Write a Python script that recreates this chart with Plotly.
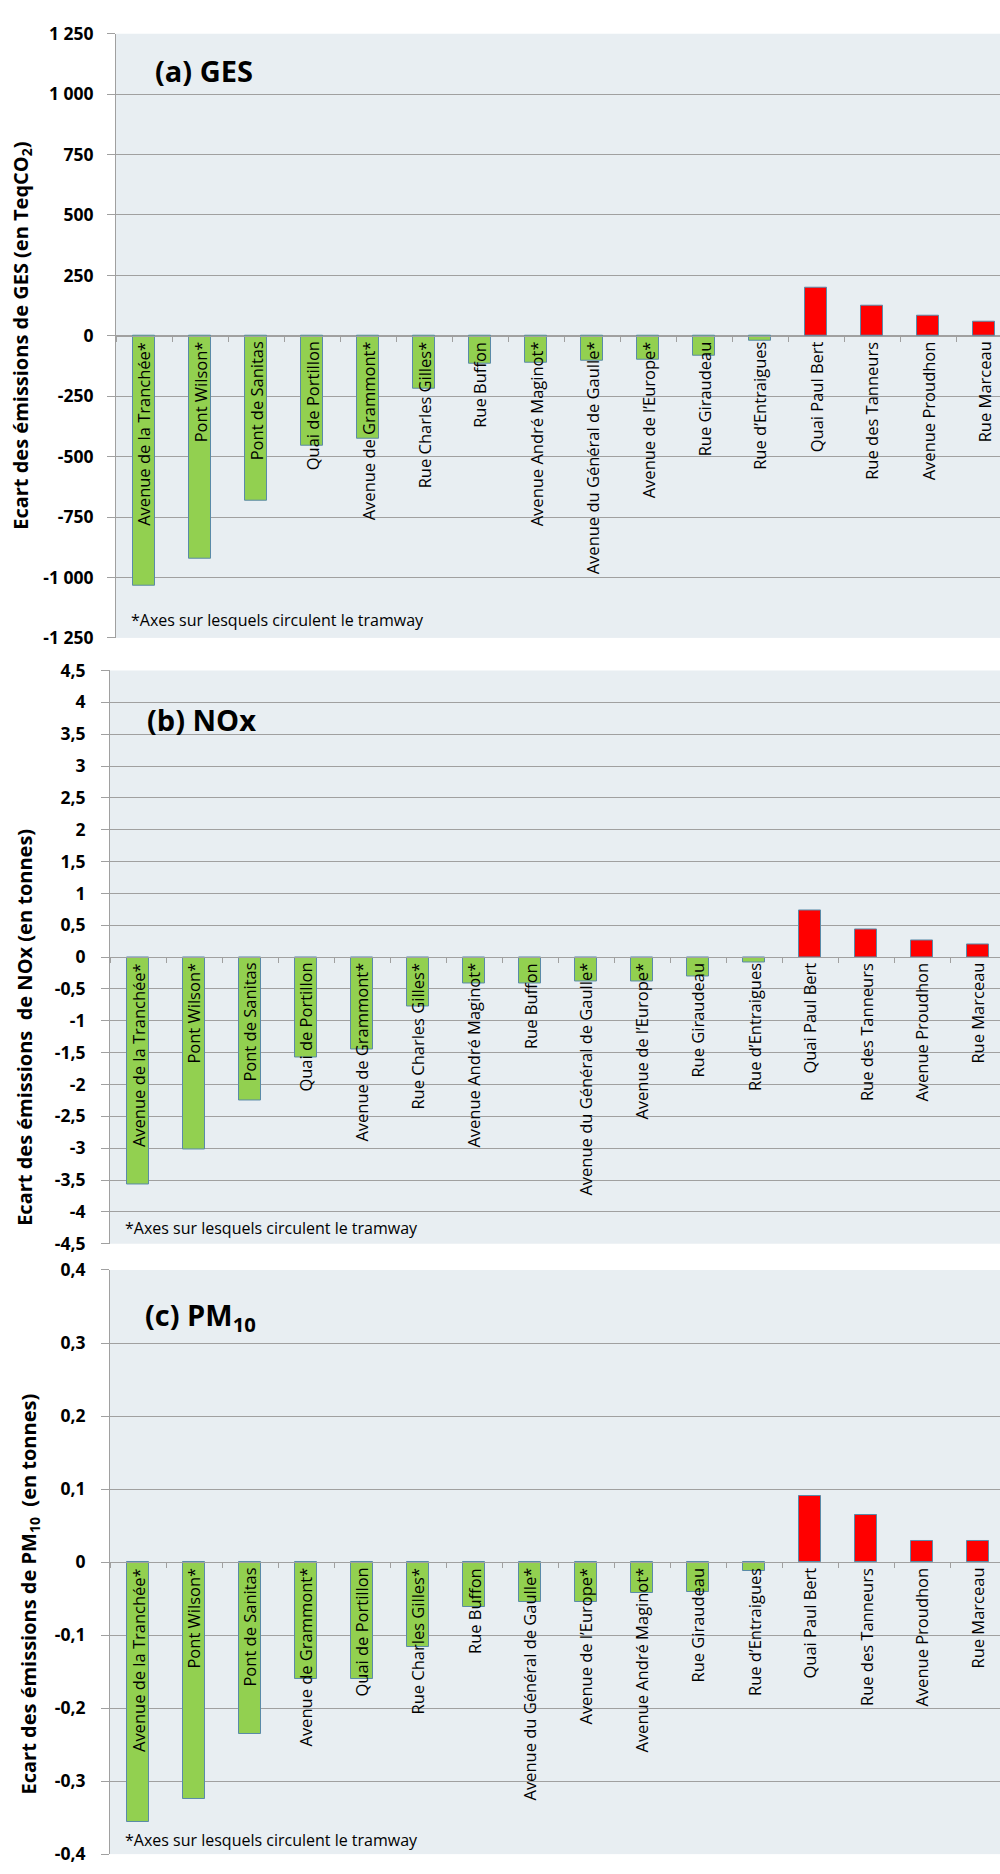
import plotly.graph_objects as go

# --- data -------------------------------------------------------------
streets_ges = ["Avenue de la Tranchée*", "Pont Wilson*", "Pont de Sanitas", "Quai de Portillon",
               "Avenue de Grammont*", "Rue Charles Gilles*", "Rue Buffon", "Avenue André Maginot*",
               "Avenue du Général de Gaulle*", "Avenue de l’Europe*", "Rue Giraudeau",
               "Rue d’Entraigues", "Quai Paul Bert", "Rue des Tanneurs", "Avenue Proudhon",
               "Rue Marceau"]
ges_values = [-1035, -922, -682, -454, -427, -219, -115, -111, -103, -100, -84, -19,
              200, 125, 84, 57]

streets_nox = ["Avenue de la Tranchée*", "Pont Wilson*", "Pont de Sanitas", "Quai de Portillon",
               "Avenue de Grammont*", "Rue Charles Gilles*", "Avenue André Maginot*", "Rue Buffon",
               "Avenue du Général de Gaulle*", "Avenue de l’Europe*", "Rue Giraudeau",
               "Rue d’Entraigues", "Quai Paul Bert", "Rue des Tanneurs", "Avenue Proudhon",
               "Rue Marceau"]
nox_values = [-3.57, -3.02, -2.25, -1.57, -1.45, -0.78, -0.41, -0.41, -0.39, -0.38, -0.31,
              -0.08, 0.73, 0.43, 0.26, 0.20]

streets_pm10 = ["Avenue de la Tranchée*", "Pont Wilson*", "Pont de Sanitas", "Avenue de Grammont*",
                "Quai de Portillon", "Rue Charles Gilles*", "Rue Buffon",
                "Avenue du Général de Gaulle*", "Avenue de l’Europe*", "Avenue André Maginot*",
                "Rue Giraudeau", "Rue d’Entraigues", "Quai Paul Bert", "Rue des Tanneurs",
                "Avenue Proudhon", "Rue Marceau"]
pm10_values = [-0.356, -0.324, -0.236, -0.160, -0.160, -0.116, -0.061, -0.055, -0.055, -0.042,
               -0.041, -0.012, 0.090, 0.064, 0.029, 0.029]

ticks_ges = [1250, 1000, 750, 500, 250, 0, -250, -500, -750, -1000, -1250]
ticklabels_ges = ["1 250", "1 000", "750", "500", "250", "0", "-250", "-500", "-750",
                  "-1 000", "-1 250"]
ticks_nox = [4.5, 4, 3.5, 3, 2.5, 2, 1.5, 1, 0.5, 0, -0.5, -1, -1.5, -2, -2.5, -3, -3.5,
             -4, -4.5]
ticklabels_nox = ["4,5", "4", "3,5", "3", "2,5", "2", "1,5", "1", "0,5", "0", "-0,5", "-1",
                  "-1,5", "-2", "-2,5", "-3", "-3,5", "-4", "-4,5"]
ticks_pm10 = [0.4, 0.3, 0.2, 0.1, 0, -0.1, -0.2, -0.3, -0.4]
ticklabels_pm10 = ["0,4", "0,3", "0,2", "0,1", "0", "-0,1", "-0,2", "-0,3", "-0,4"]

panel_titles = ["(a) GES", "(b) NOx", "(c) PM<sub>10</sub>"]
axis_titles = ["Ecart des émissions de GES (en TeqCO<sub>2</sub>)",
               "Ecart des émissions \u00a0de NOx (en tonnes)",
               "Ecart des émissions de PM<sub>10</sub> \u00a0(en tonnes)"]
footnote = "*Axes sur lesquels circulent le tramway"

# --- styling ----------------------------------------------------------
FONT = "Open Sans"
GREEN = "#92D050"
RED = "#FF0000"
OUTLINE = "#5A8AA8"
GRID = "#A0A0A0"
PLOT_BG = "#E8EEF2"

W, H = 1000, 1874

panels = [
    dict(names=streets_ges, values=ges_values, ticks=ticks_ges, labels=ticklabels_ges,
         yr=(-1250, 1250), top=21, bottom=633, left=116, standoff=10,
         title_xy=(153, 58), ytitle_xy=(22, 327), note_xy=(129, 615)),
    dict(names=streets_nox, values=nox_values, ticks=ticks_nox, labels=ticklabels_nox,
         yr=(-4.5, 4.5), top=666, bottom=1246.7, left=110, standoff=12,
         title_xy=(145, 716), ytitle_xy=(25, 1028), note_xy=(123, 1231)),
    dict(names=streets_pm10, values=pm10_values, ticks=ticks_pm10, labels=ticklabels_pm10,
         yr=(-0.4, 0.4), top=1273.3, bottom=1865, left=110, standoff=12,
         title_xy=(143, 1320), ytitle_xy=(29, 1602), note_xy=(123, 1851)),
]

CAT_PX = 56  # width of one category slot in pixels

fig = go.Figure()
annotations = []
layout = {}

for i, p in enumerate(panels, start=1):
    xa, ya = f"x{i}", f"y{i}"
    xkey, ykey = f"xaxis{i}", f"yaxis{i}"
    n = len(p["names"])
    idx = list(range(n))
    colors = [GREEN if v < 0 else RED for v in p["values"]]

    fig.add_trace(go.Bar(
        x=idx, y=p["values"], xaxis=xa, yaxis=ya, width=0.41,
        marker=dict(color=colors, line=dict(color=OUTLINE, width=1)),
        showlegend=False, hoverinfo="x+y",
    ))

    d0 = 1 - p["bottom"] / H
    d1 = 1 - p["top"] / H
    lo, hi = p["yr"]
    xdom0 = p["left"] / W
    # visible categories across the plot width
    span = (W - p["left"]) / CAT_PX
    zero_pos = d0 + (0 - lo) / (hi - lo) * (d1 - d0)

    layout[xkey] = dict(
        domain=[xdom0, 1], range=[-0.5, -0.5 + span], anchor="free", position=zero_pos,
        showline=True, linecolor=GRID, linewidth=1, ticks="outside", ticklen=5,
        tickcolor=GRID, tickvals=[k - 0.5 for k in range(n + 1)], showticklabels=False,
        showgrid=False, zeroline=False, fixedrange=True,
    )
    layout[ykey] = dict(
        domain=[d0, d1], range=[lo, hi], anchor=xa, tickvals=p["ticks"],
        ticktext=p["labels"], showgrid=True, gridcolor=GRID, gridwidth=1, zeroline=False,
        showline=True, linecolor=GRID, linewidth=1, ticks="outside", ticklen=8,
        tickcolor=GRID, ticklabelstandoff=p["standoff"],
        tickfont=dict(family=FONT, size=17.5, color="black", weight="bold"), fixedrange=True,
    )

    # street names, drawn vertically just below the zero line
    for k, name in enumerate(p["names"]):
        annotations.append(dict(
            x=k, y=0, xref=xa, yref=ya, text=name, textangle=-90, showarrow=False,
            xanchor="center", yanchor="top", yshift=-4,
            font=dict(family=FONT, size=16.5, color="black"),
        ))

    tx, ty = p["title_xy"]
    annotations.append(dict(
        x=tx / W, y=1 - ty / H, xref="paper", yref="paper", text=panel_titles[i - 1],
        showarrow=False, xanchor="left", yanchor="middle",
        font=dict(family=FONT, size=29, color="black", weight="bold"),
    ))
    ax_, ay_ = p["ytitle_xy"]
    annotations.append(dict(
        x=ax_ / W, y=1 - ay_ / H, xref="paper", yref="paper", text=axis_titles[i - 1],
        textangle=-90, showarrow=False, xanchor="center", yanchor="middle",
        font=dict(family=FONT, size=20, color="black", weight="bold"),
    ))
    nx, ny = p["note_xy"]
    annotations.append(dict(
        x=nx / W, y=1 - ny / H, xref="paper", yref="paper", text=footnote,
        showarrow=False, xanchor="left", yanchor="middle",
        font=dict(family=FONT, size=16, color="black"),
    ))

fig.update_layout(
    width=W, height=H, margin=dict(l=0, r=0, t=0, b=0),
    paper_bgcolor="white", plot_bgcolor=PLOT_BG,
    annotations=annotations, bargap=0, **layout,
)

fig.write_html("out.html", config={"displayModeBar": False})
